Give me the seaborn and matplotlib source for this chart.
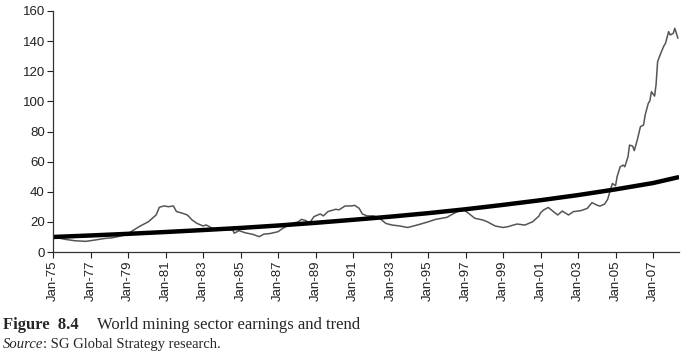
import numpy as np
import pandas as pd
import matplotlib
matplotlib.use("Agg")
import matplotlib.pyplot as plt
import matplotlib.dates as mdates
import seaborn as sns

# World mining sector earnings
earn_dates = [
    "1975-01", "1975-09", "1976-03", "1976-10", "1977-04", "1977-10", "1978-03", "1978-09",
    "1979-01", "1979-03", "1979-08", "1980-02", "1980-07", "1980-09", "1980-12", "1981-03",
    "1981-06", "1981-08", "1981-12", "1982-03", "1982-06", "1982-09", "1983-01", "1983-03",
    "1983-07", "1983-12", "1984-08", "1984-09", "1984-12", "1985-04", "1985-09", "1986-01",
    "1986-04", "1986-08", "1987-01", "1987-04", "1987-10", "1988-02", "1988-04", "1988-07",
    "1988-09", "1988-12", "1989-04", "1989-06", "1989-09", "1990-02", "1990-04", "1990-08",
    "1990-12", "1991-02", "1991-05", "1991-07", "1991-10", "1992-02", "1992-06", "1992-10",
    "1993-02", "1993-07", "1993-12", "1994-06", "1994-12", "1995-06", "1996-01", "1996-05",
    "1996-09", "1996-12", "1997-03", "1997-07", "1997-12", "1998-03", "1998-08", "1999-01",
    "1999-04", "1999-10", "2000-03", "2000-08", "2000-12", "2001-01", "2001-03", "2001-06",
    "2001-08", "2001-12", "2002-03", "2002-07", "2002-10", "2003-03", "2003-07", "2003-10",
    "2004-01", "2004-03", "2004-06", "2004-08", "2004-10", "2004-11", "2005-01", "2005-02",
    "2005-04", "2005-06", "2005-07", "2005-09", "2005-10", "2005-12", "2006-01", "2006-03",
    "2006-05", "2006-07", "2006-08", "2006-10", "2006-11", "2006-12", "2007-02", "2007-03",
    "2007-04", "2007-06", "2007-08", "2007-09", "2007-11", "2007-12", "2008-02", "2008-03",
    "2008-05",
]
earn_values = [
    10.0, 8.4, 7.5, 7.1, 8.0, 9.0, 9.5, 10.8,
    12.0, 13.5, 16.8, 20.1, 24.6, 29.7, 30.6, 30.1,
    30.6, 26.9, 25.7, 24.6, 21.3, 19.1, 17.3, 18.0,
    15.8, 15.1, 14.6, 12.5, 14.2, 12.8, 11.7, 10.2,
    11.9, 12.3, 13.5, 15.7, 19.0, 20.1, 21.7, 20.8,
    19.0, 23.5, 25.3, 24.0, 26.9, 28.4, 28.0, 30.6,
    30.6, 31.0, 29.0, 25.3, 24.0, 24.0, 22.4, 19.0,
    17.9, 17.3, 16.3, 17.9, 19.7, 21.7, 23.0, 25.3,
    27.6, 28.0, 25.7, 22.4, 21.3, 20.1, 17.3, 16.3,
    16.8, 18.6, 17.9, 20.1, 23.9, 26.0, 27.9, 29.6,
    27.9, 24.6, 27.2, 24.6, 26.8, 27.5, 29.0, 32.8,
    31.2, 30.5, 31.8, 35.0, 42.3, 45.5, 44.0, 50.0,
    56.6, 57.7, 56.6, 63.3, 71.0, 70.3, 67.3, 74.4,
    83.2, 84.3, 90.9, 98.7, 100.4, 106.4, 103.5, 110.9,
    126.4, 131.9, 136.8, 138.5, 146.3, 144.1, 145.2, 148.5,
    141.9,
]

# Trend line
trend_dates = ["1975-01", "1977-01", "1979-01", "1981-01", "1983-01", "1985-01",
               "1987-01", "1989-01", "1991-01", "1993-01", "1995-01", "1997-01",
               "1999-01", "2001-01", "2003-01", "2005-01", "2007-01", "2008-05"]
trend_values = [10.0, 11.0, 12.1, 13.3, 14.6, 16.0, 17.6, 19.4, 21.4, 23.5,
                25.8, 28.4, 31.3, 34.4, 37.8, 41.6, 45.8, 49.6]

x_tick_dates = ["1975-01", "1977-01", "1979-01", "1981-01", "1983-01", "1985-01",
                "1987-01", "1989-01", "1991-01", "1993-01", "1995-01", "1997-01",
                "1999-01", "2001-01", "2003-01", "2005-01", "2007-01"]
y_ticks = [0, 20, 40, 60, 80, 100, 120, 140, 160]

df_earn = pd.DataFrame({"date": pd.to_datetime(earn_dates), "value": earn_values})
df_trend = pd.DataFrame({"date": pd.to_datetime(trend_dates), "value": trend_values})

sns.set_theme(style="ticks")
plt.rcParams["font.family"] = ["Liberation Sans", "DejaVu Sans"]

fig = plt.figure(figsize=(6.89, 3.54), dpi=100)
ax = fig.add_axes([0.077, 0.288, 0.908, 0.681])

sns.lineplot(data=df_earn, x="date", y="value", ax=ax, color="#555555", lw=1.1)
sns.lineplot(data=df_trend, x="date", y="value", ax=ax, color="black", lw=3.2)

ax.set_xlim(pd.Timestamp("1975-01-01"), pd.Timestamp("2008-05-15"))
ax.set_ylim(0, 160)
ax.set_yticks(y_ticks)
ax.set_xticks(pd.to_datetime(x_tick_dates))
ax.xaxis.set_major_formatter(mdates.DateFormatter("%b-%y"))
ax.tick_params(axis="x", rotation=90, labelsize=9.5, length=4, width=0.8, colors="#222222", pad=2)
ax.tick_params(axis="y", labelsize=9.5, length=4, width=0.8, colors="#222222", pad=2)
ax.set_xlabel("")
ax.set_ylabel("")
sns.despine(ax=ax)
for s in ["left", "bottom"]:
    ax.spines[s].set_color("#333333")
    ax.spines[s].set_linewidth(0.9)

# Caption below the chart
serif = ["Liberation Serif", "DejaVu Serif"]
fig.text(0.004, 0.071, "Figure  8.4", family=serif, fontsize=12, fontweight="bold", va="baseline")
fig.text(0.141, 0.071, "World mining sector earnings and trend", family=serif, fontsize=12, va="baseline")
src = fig.text(0.004, 0.017, "Source", family=serif, fontsize=10.5, style="italic", va="baseline")
fig.canvas.draw()
bb = src.get_window_extent().transformed(fig.transFigure.inverted())
fig.text(bb.x1, 0.017, ": SG Global Strategy research.", family=serif, fontsize=10.5, va="baseline")

fig.savefig("out.png", dpi=100)
